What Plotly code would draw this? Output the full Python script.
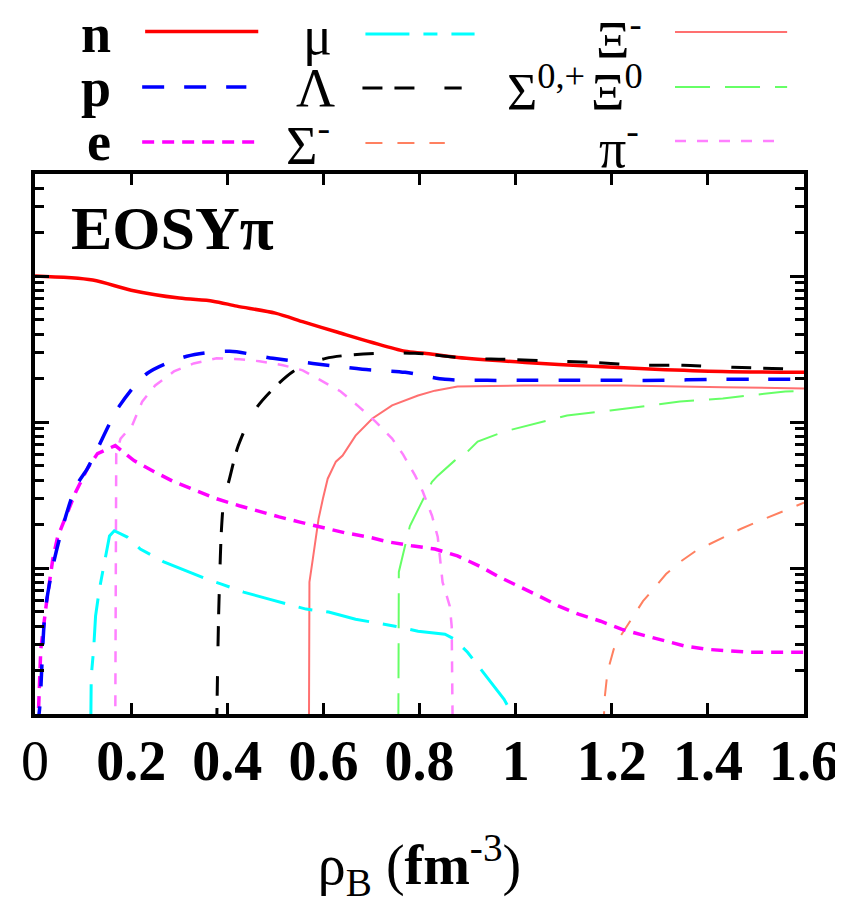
import plotly.graph_objects as go
import numpy as np

# ---------------- data (particle fractions vs baryon density) ----------------
n_rho = [0.0, 0.12, 0.2, 0.3, 0.37, 0.42, 0.5, 0.56, 0.63, 0.7, 0.77, 0.81, 0.88, 1.02, 1.16, 1.29, 1.43, 1.6]
n_val = [1.0, 0.939, 0.80, 0.706, 0.673, 0.622, 0.557, 0.483, 0.412, 0.352, 0.305, 0.296, 0.277, 0.256, 0.241, 0.230, 0.222, 0.219]

p_rho = [0.005, 0.010, 0.021, 0.037, 0.058, 0.085, 0.109, 0.130, 0.175, 0.233, 0.316, 0.405, 0.495, 0.578, 0.681, 0.77, 0.853, 0.941, 1.032, 1.127, 1.218, 1.307, 1.404, 1.493, 1.6]
p_val = [0.0008, 0.00113, 0.00499, 0.0102, 0.0194, 0.036, 0.048, 0.0657, 0.128, 0.215, 0.282, 0.305, 0.273, 0.252, 0.230, 0.219, 0.196, 0.193, 0.193, 0.193, 0.193, 0.193, 0.196, 0.196, 0.196]

e_rho = [0.006, 0.012, 0.023, 0.037, 0.047, 0.068, 0.085, 0.109, 0.130, 0.167, 0.206, 0.248, 0.289, 0.336, 0.378, 0.425, 0.467, 0.508, 0.549, 0.599, 0.646, 0.694, 0.735, 0.784, 0.832, 0.879, 0.925, 0.966, 1.007, 1.049, 1.09, 1.131, 1.177, 1.22, 1.265, 1.311, 1.354, 1.4, 1.445, 1.488, 1.538, 1.6]
e_val = [0.0008, 0.00277, 0.00548, 0.0115, 0.0163, 0.0243, 0.0333, 0.048, 0.0608, 0.069, 0.0544, 0.0457, 0.039, 0.0338, 0.0298, 0.0267, 0.0243, 0.0224, 0.0207, 0.0188, 0.0174, 0.0163, 0.0151, 0.0142, 0.0135, 0.0121, 0.0103, 0.00868, 0.00752, 0.00642, 0.00548, 0.00483, 0.00432, 0.00381, 0.00347, 0.00315, 0.00291, 0.00277, 0.00269, 0.00265, 0.00265, 0.00265]

mu_rho = [0.116, 0.117, 0.122, 0.126, 0.134, 0.145, 0.155, 0.165, 0.192, 0.219, 0.268, 0.316, 0.357, 0.388, 0.434, 0.487, 0.564, 0.611, 0.667, 0.749, 0.797, 0.853, 0.873, 0.90, 0.939, 0.976, 0.993, 1.0]
mu_val = [0.0008, 0.00181, 0.00277, 0.00468, 0.00717, 0.0115, 0.0166, 0.0180, 0.0163, 0.0135, 0.0110, 0.00953, 0.0084, 0.00776, 0.00684, 0.00612, 0.00523, 0.00499, 0.00446, 0.00399, 0.00369, 0.00352, 0.00325, 0.00265, 0.00181, 0.00126, 0.00100, 0.0008]

lam_rho = [0.378, 0.380, 0.382, 0.384, 0.388, 0.394, 0.403, 0.423, 0.46, 0.537, 0.605, 0.714, 0.791, 0.90, 0.976, 1.086, 1.156, 1.272, 1.348, 1.451, 1.534, 1.6]
lam_val = [0.0008, 0.00212, 0.00468, 0.008, 0.0185, 0.0313, 0.039, 0.069, 0.124, 0.222, 0.273, 0.296, 0.296, 0.273, 0.269, 0.261, 0.256, 0.245, 0.245, 0.237, 0.233, 0.229]

xim_rho = [0.570, 0.571, 0.578, 0.584, 0.590, 0.599, 0.609, 0.626, 0.64, 0.667, 0.702, 0.743, 0.797, 0.832, 0.879, 1.018, 1.224, 1.431, 1.6]
xim_val = [0.0008, 0.008, 0.0115, 0.0158, 0.0217, 0.0298, 0.0409, 0.0535, 0.0589, 0.0807, 0.1057, 0.13, 0.152, 0.164, 0.175, 0.178, 0.178, 0.173, 0.17]

xi0_rho = [0.756, 0.757, 0.77, 0.78, 0.805, 0.815, 0.826, 0.838, 0.873, 0.90, 0.921, 0.976, 1.024, 1.107, 1.197, 1.342, 1.431, 1.561, 1.6]
xi0_val = [0.0008, 0.0094, 0.0142, 0.0194, 0.0284, 0.0333, 0.039, 0.0429, 0.0544, 0.0627, 0.0734, 0.086, 0.0946, 0.111, 0.12, 0.138, 0.145, 0.162, 0.163]

sm_rho = [1.183, 1.185, 1.191, 1.204, 1.214, 1.265, 1.292, 1.313, 1.342, 1.375, 1.404, 1.468, 1.507, 1.538, 1.575, 1.6]
sm_val = [0.0008, 0.00126, 0.00193, 0.00277, 0.00325, 0.00593, 0.00752, 0.0091, 0.011, 0.0131, 0.0146, 0.0185, 0.021, 0.0231, 0.0262, 0.028]

pi_rho = [0.167, 0.168, 0.169, 0.178, 0.202, 0.223, 0.25, 0.289, 0.33, 0.378, 0.425, 0.467, 0.516, 0.557, 0.595, 0.636, 0.673, 0.708, 0.743, 0.766, 0.791, 0.807, 0.826, 0.838, 0.848, 0.863, 0.867, 0.868, 0.869]
pi_val = [0.0008, 0.0052, 0.0608, 0.077, 0.0946, 0.138, 0.178, 0.222, 0.252, 0.273, 0.269, 0.261, 0.245, 0.226, 0.193, 0.162, 0.128, 0.101, 0.077, 0.0598, 0.0429, 0.0333, 0.0228, 0.0163, 0.008, 0.00548, 0.00399, 0.001, 0.0008]

x_ticks = [0, 0.2, 0.4, 0.6, 0.8, 1.0, 1.2, 1.4, 1.6]
x_ticktext = ["0", "<b>0.2</b>", "<b>0.4</b>", "<b>0.6</b>", "<b>0.8</b>", "<b>1</b>", "<b>1.2</b>", "<b>1.4</b>", "<b>1.6</b>"]
y_major = [1e-3, 1e-2, 1e-1, 1.0]
y_minor = [m * 10.0 ** k for k in (-3, -2, -1) for m in range(2, 10)] + [2.0, 3.0, 4.0]

SERIF = "Liberation Serif"

DASH = {
    "n": "solid", "p": "22px,20px", "e": "12px,8px", "mu": "44px,14px,14px,14px",
    "lam": "20px,12px,20px,30px", "sm": "17px,15px", "xim": "solid", "xi0": "35px,15px",
    "pi": "11px,11px",
}
COL = {
    "n": "#ff0000", "p": "#0000ff", "e": "#ff00ff", "mu": "#00ffff", "lam": "#000000",
    "sm": "#ff8060", "xim": "#ff7070", "xi0": "#66ff66", "pi": "#ff80ff",
}
WID = {"n": 3.5, "p": 3.5, "e": 3.5, "mu": 3, "lam": 3, "sm": 2, "xim": 2, "xi0": 2, "pi": 2.5}

series = [
    ("xim", xim_rho, xim_val, "linear"),
    ("xi0", xi0_rho, xi0_val, "linear"),
    ("sm", sm_rho, sm_val, "linear"),
    ("pi", pi_rho, pi_val, "linear"),
    ("mu", mu_rho, mu_val, "linear"),
    ("e", e_rho, e_val, "linear"),
    ("p", p_rho, p_val, "spline"),
    ("n", n_rho, n_val, "spline"),
    ("lam", lam_rho, lam_val, "spline"),
]

fig = go.Figure()
for key, xs, ys, shp in series:
    line = dict(color=COL[key], width=WID[key], dash=DASH[key], shape=shp)
    if shp == "spline":
        line["smoothing"] = 0.8
    fig.add_trace(go.Scatter(x=xs, y=ys, mode="lines", showlegend=False,
                             line=line, hoverinfo="skip"))

L, R, T, B = 27, 41, 166, 194
PW, PH = 843 - L - R, 900 - T - B


def px(xp):
    return (xp - L) / PW


def py(yp):
    return (900 - B - yp) / PH


# legend keys (layout decoration): label, label center x, label y(px), line x0, x1, line y, key, size
legend_rows = [
    ("<b>n</b>", 88, 26, 138, 252, 23.5, "n", 54),
    ("<b>p</b>", 88, 80, 135, 240, 79, "p", 54),
    ("<b>e</b>", 92, 134, 135, 250, 134, "e", 54),
    ("μ", 312, 28, 360, 470, 26, "mu", 54),
    ("Λ", 310, 80, 357, 457, 80, "lam", 54),
    ("Σ<sup>-</sup>", 302, 134, 360, 440, 135, "sm", 54),
    ("Ξ<sup>-</sup>", 616, 28, 672, 785, 24, "xim", 52),
    ("Ξ<sup>0</sup>", 614, 80, 672, 785, 79, "xi0", 52),
    ("π<sup>-</sup>", 616, 136, 672, 782, 133, "pi", 54),
]

annotations = []
shapes = []
for lab, cx, cy, x0, x1, ly, key, fs in legend_rows:
    annotations.append(dict(text=lab, x=px(cx), y=py(cy), xref="paper", yref="paper",
                            xanchor="center", yanchor="middle", showarrow=False,
                            font=dict(family=SERIF, size=fs, color="black")))
    shapes.append(dict(type="line", xref="paper", yref="paper", x0=px(x0), x1=px(x1),
                       y0=py(ly), y1=py(ly),
                       line=dict(color=COL[key], width=WID[key], dash=DASH[key])))

annotations.append(dict(text="Σ<sup>0,+</sup>", x=px(583), y=py(80), xref="paper", yref="paper",
                        xanchor="right", yanchor="middle", showarrow=False,
                        font=dict(family=SERIF, size=52, color="black")))
annotations.append(dict(text="<b>EOSYπ</b>", x=px(166), y=py(220), xref="paper", yref="paper",
                        xanchor="center", yanchor="middle", showarrow=False,
                        font=dict(family=SERIF, size=62, color="black")))

fig.update_layout(
    width=843, height=900,
    margin=dict(l=L, r=R, t=T, b=B),
    paper_bgcolor="white", plot_bgcolor="white",
    annotations=annotations, shapes=shapes,
    showlegend=False,
)

fig.update_xaxes(
    range=[0, 1.6], tickmode="array", tickvals=x_ticks, ticktext=x_ticktext,
    ticks="inside", ticklen=11, tickwidth=3, tickcolor="black",
    showline=True, linewidth=4, linecolor="black", mirror="allticks",
    showgrid=False, zeroline=False,
    tickfont=dict(family=SERIF, size=56, color="black"),
    ticklabelstandoff=-5,
    title=dict(text="ρ<sub>B</sub> (<b>fm</b><sup>-3</sup>)",
               font=dict(family=SERIF, size=56, color="black"), standoff=55),
)

fig.update_yaxes(
    type="log", range=[-3, np.log10(5)],
    tickmode="array", tickvals=y_major, showticklabels=False,
    ticks="inside", ticklen=14, tickwidth=3, tickcolor="black",
    minor=dict(tickmode="array", tickvals=y_minor, ticks="inside", ticklen=9,
               tickwidth=3, tickcolor="black", showgrid=False),
    showline=True, linewidth=4, linecolor="black", mirror="allticks",
    showgrid=False, zeroline=False,
)

fig.write_html("out.html")
